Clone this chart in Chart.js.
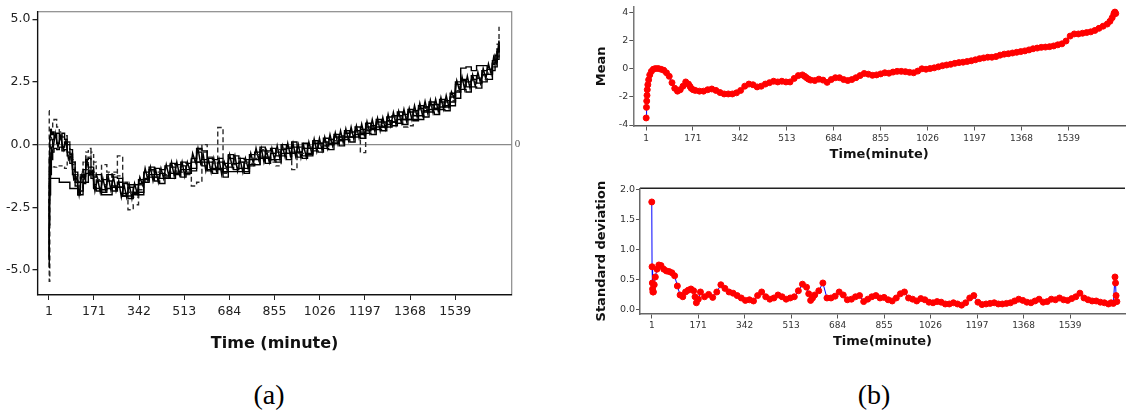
<!DOCTYPE html>
<html><head><meta charset="utf-8">
<script src="https://cdn.jsdelivr.net/npm/chart.js@4.4.1/dist/chart.umd.min.js"></script>
<style>
html,body{margin:0;padding:0;background:#fff;width:1130px;height:414px;overflow:hidden;}
.box{position:absolute;}
.lab{position:absolute;font-family:'Liberation Serif','Times New Roman',serif;font-size:28px;color:#000;text-align:center;width:80px;line-height:28px;}
</style></head><body>
<div class="box" style="left:0;top:0;width:540px;height:360px"><canvas id="ca" width="540" height="360"></canvas></div>
<div class="box" style="left:560px;top:0;width:570px;height:180px"><canvas id="cm" width="570" height="180"></canvas></div>
<div class="box" style="left:560px;top:180px;width:570px;height:180px"><canvas id="cs" width="570" height="180"></canvas></div>
<div class="lab" style="left:229px;top:381px">(a)</div>
<div class="lab" style="left:834px;top:381px">(b)</div>
<script>
// ---------- tick labels ----------
const timeTicks = [1,171,342,513,684,855,1026,1197,1368,1539];
const yTicksA = [-5,-2.5,0,2.5,5];
const yTicksMean = [-4,-2,0,2,4];
const yTicksSd = [0,0.5,1,1.5,2];
const refLineA = [0];

// ---------- panel (a): individual series ----------
const timeA = [1,2,4,7,10,15,20,
30,40,50,60,70,80,90,100,110,120,130,140,150,160,170,180,
200,220,240,260,280,300,320,340,360,380,
400,420,440,460,480,500,520,540,560,580,
600,620,640,660,680,700,720,740,760,780,
800,820,840,860,880,900,920,940,960,980,
1000,1020,1040,1060,1080,1100,1120,1140,1160,1180,
1200,1220,1240,1260,1280,1300,1320,1340,1360,1380,
1400,1420,1440,1460,1480,1500,1520,1540,1560,1580,
1600,1620,1640,1660,1680,
1690,1698,1705];
const runA = [-4.6,-2.2,-1.2,-0.5,-0.1,0.2,0.3,
0.05,0.25,-0.1,0.1,-0.3,-0.4,-1.0,-1.5,-1.8,-1.5,-1.2,-0.8,-0.9,-1.2,-1.6,-1.45,
-1.8,-1.45,-1.65,-1.5,-1.95,-1.7,-2.0,-1.55,-1.4,-1.0,
-1.3,-1.15,-1.25,-0.9,-1.1,-0.85,-1.1,-0.7,-0.3,-0.6,
-0.7,-0.95,-0.7,-1.1,-0.55,-0.75,-0.7,-0.95,-0.6,-0.6,
-0.25,-0.55,-0.35,-0.45,-0.2,-0.35,-0.1,-0.3,-0.15,-0.35,
0.05,-0.15,0.1,0.0,0.3,0.15,0.45,0.3,0.55,0.4,
0.7,0.6,0.9,0.7,0.95,0.9,1.15,1.0,1.3,1.15,
1.45,1.3,1.6,1.4,1.7,1.5,1.9,2.1,2.55,2.3,
2.6,2.45,2.8,2.8,3.25,
3.3,3.7,3.95];
const runB = [-3.0,-0.5,0.3,0.6,0.4,0.5,0.35,
0.45,0.3,0.45,0.2,0.0,-0.2,-0.7,-1.1,-1.5,-1.3,-1.0,-0.6,-0.55,-0.9,-1.3,-1.2,
-1.4,-1.2,-1.3,-1.35,-1.55,-1.6,-1.6,-1.4,-1.1,-0.9,
-0.95,-1.0,-0.85,-0.75,-0.8,-0.7,-0.75,-0.55,-0.15,-0.25,
-0.55,-0.6,-0.55,-0.75,-0.4,-0.45,-0.55,-0.6,-0.4,-0.3,
-0.1,-0.25,-0.15,-0.3,0.0,-0.15,0.1,-0.1,0.05,-0.15,
0.15,0.05,0.25,0.2,0.4,0.3,0.55,0.5,0.7,0.6,
0.85,0.75,1.0,0.9,1.1,1.15,1.3,1.2,1.4,1.35,
1.55,1.5,1.7,1.6,1.8,1.75,2.05,2.5,2.6,2.5,
2.75,2.65,2.95,3.0,3.35,
3.55,3.8,4.1];
const runC = [-4.9,-3.2,-2.0,-1.2,-0.6,-0.3,-0.15,
-0.2,-0.1,-0.25,-0.2,-0.45,-0.75,-1.2,-1.65,-2.0,-1.85,-1.55,-1.15,-1.05,-1.35,-1.7,-1.85,
-1.9,-1.75,-1.85,-1.7,-2.05,-2.15,-1.95,-2.0,-1.5,-1.3,
-1.45,-1.55,-1.3,-1.35,-1.2,-1.3,-1.15,-1.05,-0.7,-0.85,
-1.05,-1.15,-0.95,-1.3,-0.9,-1.0,-0.95,-1.15,-0.85,-0.8,
-0.55,-0.75,-0.6,-0.7,-0.45,-0.6,-0.35,-0.5,-0.55,-0.4,
-0.25,-0.3,-0.15,-0.2,0.05,-0.05,0.2,0.1,0.3,0.25,
0.45,0.4,0.6,0.55,0.7,0.75,0.85,0.8,1.0,0.95,
1.15,1.1,1.3,1.2,1.4,1.35,1.55,1.85,2.2,2.1,
2.3,2.25,2.5,2.6,2.95,
3.1,3.4,3.75];
const runD = [1.35,-5.45,-1.0,0.2,0.6,0.9,1.0,
0.7,0.5,0.3,0.35,0.1,-0.3,-0.8,-1.3,-1.5,-1.1,-0.7,-0.3,-0.15,-0.6,-1.1,-1.3,
-0.8,-1.1,-1.2,-0.45,-1.6,-2.6,-2.4,-1.8,-1.2,-1.05,
-1.1,-1.05,-0.95,-0.8,-0.9,-0.85,-1.2,-1.65,-1.5,0.0,
-0.5,-0.7,0.68,-0.95,-0.75,-0.55,-0.7,-0.75,-0.55,-0.4,
-0.2,-0.3,-0.35,-0.2,-0.15,-0.1,-1.0,-0.35,-0.15,-0.1,
0.1,0.05,0.05,0.2,0.25,0.35,0.45,0.5,0.55,-0.32,
0.6,0.75,0.85,0.85,0.92,1.1,1.15,0.7,0.75,1.3,
1.4,1.5,1.55,1.55,1.65,1.7,1.85,2.3,2.5,2.5,
2.55,2.65,2.75,2.95,3.25,
3.6,4.0,4.7];
const runE = [-4.5,-1.5,-1.35,-1.35,-1.35,-1.35,-1.35,
-1.35,-1.5,-1.5,-1.5,-1.5,-1.75,-1.75,-1.75,-2.0,-2.0,-1.5,-1.5,-1.2,-1.2,-1.75,-1.75,
-2.0,-2.0,-1.7,-1.7,-2.05,-2.05,-1.9,-1.9,-1.35,-1.2,
-1.2,-1.35,-1.35,-1.15,-1.15,-1.0,-1.0,-0.95,-0.7,-0.7,
-1.0,-1.0,-1.0,-1.08,-1.08,-1.08,-1.08,-1.08,-0.8,-0.8,
-0.5,-0.5,-0.6,-0.6,-0.35,-0.35,-0.3,-0.3,-0.45,-0.45,
-0.15,-0.15,-0.05,0.05,0.05,0.2,0.3,0.3,0.4,0.45,
0.55,0.65,0.7,0.7,0.8,0.9,1.0,1.0,1.0,1.0,
1.0,1.35,1.4,1.45,1.5,1.55,1.7,2.4,3.05,3.1,
2.95,3.15,3.15,3.0,3.2,
3.4,3.7,4.0];
const runF = [-4.0,-1.0,-0.9,-0.9,-0.9,-0.85,-0.9,
-0.85,-0.85,-0.9,-0.95,-0.6,-0.35,-0.6,-1.2,-1.65,-1.75,-1.4,-1.0,-0.5,-0.3,-0.7,-1.4,
-1.6,-1.3,-1.1,-1.25,-1.5,-1.9,-2.1,-1.6,-1.45,-1.2,
-1.3,-1.15,-1.2,-1.1,-1.05,-1.1,-0.9,-0.6,-0.2,-0.3,
-0.9,-0.75,-0.9,-1.15,-0.45,-0.8,-0.9,-0.7,-0.75,-0.55,
-0.45,-0.5,-0.7,-0.85,-0.4,-0.35,-0.25,-0.3,-0.35,-0.2,
-0.1,0.0,-0.05,0.15,0.15,0.3,0.3,0.45,0.5,0.5,
0.65,0.7,0.8,0.75,0.85,1.0,1.05,1.1,1.15,1.2,
1.3,1.45,1.45,1.5,1.6,1.65,1.75,2.15,2.4,2.35,
2.45,2.5,2.6,2.85,3.1,
3.3,3.5,3.8];
// a finer-sampled run (every 10 minutes) that forms the dense core of the band
const timeFine = [5,15,25,35,45,55,65,75,85,95,
105,115,125,135,145,155,165,175,185,195,
205,215,225,235,245,255,265,275,285,295,
305,315,325,335,345,355,365,375,385,395,
405,415,425,435,445,455,465,475,485,495,
505,515,525,535,545,555,565,575,585,595,
605,615,625,635,645,655,665,675,685,695,
705,715,725,735,745,755,765,775,785,795,
805,815,825,835,845,855,865,875,885,895,
905,915,925,935,945,955,965,975,985,995,
1005,1015,1025,1035,1045,1055,1065,1075,1085,1095,
1105,1115,1125,1135,1145,1155,1165,1175,1185,1195,
1205,1215,1225,1235,1245,1255,1265,1275,1285,1295,
1305,1315,1325,1335,1345,1355,1365,1375,1385,1395,
1405,1415,1425,1435,1445,1455,1465,1475,1485,1495,
1505,1515,1525,1535,1545,1555,1565,1575,1585,1595,
1605,1615,1625,1635,1645,1655,1665,1675,1685,1695,
1705];
const runFine = [-0.9,-0.25,0.45,-0.1,0.35,-0.2,0.15,-0.6,-0.45,-1.4,
-1.3,-2.0,-1.2,-1.35,-0.6,-1.2,-1.05,-1.85,-1.35,-1.9,
-1.35,-1.8,-1.25,-1.8,-1.3,-1.85,-1.45,-2.1,-1.6,-2.1,
-1.6,-2.15,-1.55,-1.95,-1.3,-1.6,-0.95,-1.4,-0.9,-1.45,
-1.0,-1.5,-0.95,-1.35,-0.8,-1.25,-0.7,-1.25,-0.7,-1.2,
-0.7,-1.25,-0.7,-1.05,-0.35,-0.7,-0.15,-0.75,-0.4,-1.05,
-0.6,-1.1,-0.55,-1.05,-0.6,-1.2,-0.7,-1.0,-0.4,-0.9,
-0.45,-1.05,-0.6,-1.1,-0.55,-0.95,-0.35,-0.75,-0.15,-0.6,
-0.15,-0.7,-0.25,-0.7,-0.15,-0.6,-0.05,-0.55,-0.05,-0.5,
0.05,-0.45,0.05,-0.47,0.0,-0.53,-0.03,-0.5,0.1,-0.3,
0.22,-0.28,0.25,-0.23,0.3,-0.15,0.4,-0.05,0.47,0.02,
0.55,0.08,0.63,0.17,0.7,0.23,0.75,0.27,0.82,0.37,
0.92,0.47,1.0,0.53,1.05,0.55,1.08,0.63,1.2,0.75,
1.28,0.8,1.33,0.87,1.4,0.93,1.45,1.0,1.55,1.1,
1.65,1.18,1.72,1.25,1.77,1.28,1.8,1.33,1.87,1.41,
1.95,1.5,2.1,1.85,2.55,2.17,2.7,2.2,2.73,2.25,
2.78,2.33,2.88,2.45,3.03,2.62,3.22,2.83,3.5,3.25,
4.15];

// ---------- panel (b): mean and standard deviation ----------
const timeB = [1,2,3,4,5,7,10,14,20,27,
35,45,55,65,75,85,95,105,115,125,
135,145,155,160,165,172,
180,195,210,225,240,255,270,285,300,315,
330,345,360,375,390,405,420,435,450,465,
480,495,510,525,540,555,570,578,585,592,600,615,
630,645,660,675,690,705,720,735,750,765,
780,795,810,825,840,855,870,885,900,915,
930,945,960,975,990,1005,1020,1035,1050,1065,
1080,1095,1110,1125,1140,1155,1170,1185,1200,1215,
1230,1245,1260,1275,1290,1305,1320,1335,1350,1365,
1380,1395,1410,1425,1440,1455,1470,1485,1500,1515,
1530,1545,1560,1575,1590,1605,1620,1635,1650,1665,
1680,
1690,1698,1704,1706,1708,1711];
const meanB = [-3.5,-2.75,-2.3,-1.9,-1.5,-1.15,-0.8,-0.45,-0.2,-0.05,
0.0,0.0,-0.05,-0.12,-0.3,-0.55,-1.0,-1.4,-1.6,-1.5,
-1.25,-0.95,-1.1,-1.25,-1.4,-1.5,
-1.55,-1.6,-1.6,-1.5,-1.45,-1.55,-1.7,-1.8,-1.8,-1.8,
-1.72,-1.55,-1.25,-1.1,-1.15,-1.3,-1.25,-1.1,-1.0,-0.9,
-0.95,-0.9,-0.95,-0.95,-0.7,-0.5,-0.45,-0.55,-0.65,-0.75,-0.82,-0.85,
-0.75,-0.82,-0.98,-0.78,-0.65,-0.65,-0.78,-0.85,-0.78,-0.65,
-0.5,-0.35,-0.4,-0.48,-0.45,-0.38,-0.3,-0.33,-0.25,-0.2,
-0.2,-0.22,-0.27,-0.3,-0.18,-0.02,-0.05,0.0,0.05,0.12,
0.2,0.25,0.3,0.37,0.42,0.45,0.5,0.55,0.62,0.7,
0.75,0.8,0.8,0.85,0.95,1.02,1.05,1.1,1.15,1.2,
1.25,1.32,1.4,1.45,1.5,1.52,1.55,1.6,1.68,1.75,
1.95,2.3,2.45,2.45,2.5,2.55,2.6,2.7,2.85,3.0,
3.15,
3.35,3.6,3.85,3.95,4.0,3.9];
const sdB = [1.8,0.72,0.45,0.35,0.3,0.3,0.42,0.55,0.68,0.75,
0.74,0.68,0.65,0.64,0.62,0.57,0.4,0.25,0.22,0.3,
0.33,0.35,0.32,0.22,0.12,0.18,
0.3,0.22,0.26,0.21,0.3,0.42,0.36,0.3,0.28,0.24,
0.2,0.16,0.17,0.15,0.24,0.3,0.22,0.18,0.2,0.25,
0.22,0.18,0.2,0.22,0.32,0.43,0.38,0.27,0.16,0.2,0.25,0.32,
0.45,0.2,0.2,0.23,0.3,0.25,0.17,0.18,0.22,0.24,
0.14,0.18,0.22,0.24,0.2,0.21,0.17,0.15,0.2,0.27,
0.3,0.2,0.18,0.15,0.19,0.17,0.13,0.12,0.14,0.13,
0.1,0.1,0.12,0.1,0.08,0.12,0.2,0.24,0.13,0.09,
0.1,0.11,0.12,0.1,0.1,0.11,0.12,0.15,0.18,0.16,
0.13,0.12,0.15,0.18,0.13,0.14,0.18,0.17,0.2,0.17,
0.16,0.19,0.22,0.28,0.2,0.17,0.15,0.15,0.13,0.12,
0.1,
0.12,0.11,0.55,0.45,0.24,0.14];

// ---------- helpers ----------
const SANS = 'DejaVu Sans';
const fixW = w => s => { s.width = w; };
const fixH = h => s => { s.height = h; };
const setTicks = arr => s => { s.ticks = arr.map(v => ({value: v})); };
const pts = (xs, ys) => xs.map((x, i) => ({x: x, y: ys[i]}));
const base = {responsive:false, animation:false, devicePixelRatio:1,
  plugins:{legend:{display:false}, tooltip:{enabled:false}}};

// ---------- chart (a) ----------
const frameA = {id:'frameA', beforeDraw(c){
  const a = c.chartArea, g = c.ctx; g.save(); g.strokeStyle = '#8a8a8a'; g.lineWidth = 1.2;
  g.strokeRect(a.left, a.top, a.right - a.left, a.bottom - a.top); g.restore(); }};
const runsA = [runA, runB, runC, runD, runE, runF];
const dashA = [[], [], [], [5,3], [], [4,3]];
const dsA = runsA.map((r, k) => ({data: pts(timeA, r), borderColor: dashA[k].length ? '#2a2a2a' : '#000',
    borderWidth: 1.4, borderDash: dashA[k], stepped: true, pointRadius: 0, fill: false}));
dsA.push({data: pts(timeFine, runFine), borderColor:'#000', borderWidth:1.5, stepped:false, tension:0, pointRadius:0, fill:false});
new Chart(document.getElementById('ca'), {
  type:'line',
  data:{datasets: dsA},
  options:Object.assign({}, base, {
    layout:{padding:{left:0, top:11.7, right:0, bottom:0}},
    scales:{
      x:{type:'linear', min:-42.5, max:1753, afterFit:fixH(65), afterBuildTicks:setTicks(timeTicks),
        ticks:{autoSkip:false, maxRotation:0, font:{family:SANS, size:12.5}, color:'#222', padding:4, callback:v => String(v)},
        grid:{drawOnChartArea:false, tickLength:5, tickColor:'#222'},
        border:{color:'#111', width:1.3},
        title:{display:true, text:'Time (minute)', color:'#111', font:{family:SANS, size:16, weight:'bold'}, padding:{top:0, bottom:6.4}}},
      y:{type:'linear', min:-6.0, max:5.3, afterFit:fixW(37.5), afterBuildTicks:setTicks(yTicksA),
        ticks:{font:{family:SANS, size:12.5}, color:'#222', padding:2, callback:v => Number(v).toFixed(1)},
        grid:{color: ctx => (ctx.tick && refLineA.includes(ctx.tick.value)) ? '#8a8a8a' : 'rgba(0,0,0,0)', lineWidth:1.3, tickColor:'#222', tickLength:5},
        border:{color:'#111', width:1.3}},
      y2:{type:'linear', position:'right', min:-6.0, max:5.3, afterFit:fixW(28.3), afterBuildTicks:setTicks(refLineA),
        ticks:{font:{family:'Liberation Serif', size:11}, color:'#555', padding:3, callback:v => String(v)},
        grid:{display:false, drawTicks:false}, border:{display:false}}
    }}),
  plugins:[frameA]
});

// ---------- chart (b) mean ----------
const dotStyle = {borderColor:'#0000ff', borderWidth:1, pointRadius:3, pointBorderWidth:1,
  pointBackgroundColor:'#ff0000', pointBorderColor:'#ff0000', fill:false, tension:0};
new Chart(document.getElementById('cm'), {
  type:'line',
  data:{datasets:[Object.assign({data: pts(timeB, meanB)}, dotStyle)]},
  options:Object.assign({}, base, {
    layout:{padding:0},
    scales:{
      x:{type:'linear', min:-45.9, max:1744.7, afterFit:fixH(54), afterBuildTicks:setTicks(timeTicks),
        ticks:{autoSkip:false, maxRotation:0, font:{family:SANS, size:9}, color:'#333', padding:3, callback:v => String(v)},
        grid:{drawOnChartArea:false, tickLength:4.5, tickColor:'#555'},
        border:{color:'#555', width:1.5},
        title:{display:true, text:'Time(minute)', color:'#111', font:{family:SANS, size:13, weight:'bold'}, padding:{top:0, bottom:17.9}}},
      y:{type:'linear', min:-4.07, max:4.38, afterFit:fixW(73.3), afterBuildTicks:setTicks(yTicksMean),
        ticks:{font:{family:SANS, size:9.5}, color:'#333', padding:1, callback:v => String(v)},
        grid:{drawOnChartArea:false, tickLength:4, tickColor:'#555'},
        border:{color:'#777', width:1.5},
        title:{display:true, text:'Mean', color:'#111', font:{family:SANS, size:13, weight:'bold'}, padding:{top:33.9, bottom:0}}}
    }})
});

// ---------- chart (b) standard deviation ----------
const topLine = {id:'topLine', beforeDraw(c){
  const a = c.chartArea, g = c.ctx; g.save(); g.strokeStyle = '#222'; g.lineWidth = 1.5;
  g.beginPath(); g.moveTo(a.left, a.top); g.lineTo(a.right, a.top); g.stroke(); g.restore(); }};
new Chart(document.getElementById('cs'), {
  type:'line',
  data:{datasets:[Object.assign({data: pts(timeB, sdB)}, dotStyle)]},
  options:Object.assign({}, base, {
    layout:{padding:{left:0, top:8.3, right:0, bottom:0}},
    scales:{
      x:{type:'linear', min:-42.3, max:1740.8, afterFit:fixH(46), afterBuildTicks:setTicks(timeTicks),
        ticks:{autoSkip:false, maxRotation:0, font:{family:SANS, size:9}, color:'#333', padding:1.5, callback:v => String(v)},
        grid:{drawOnChartArea:false, tickLength:4.5, tickColor:'#555'},
        border:{color:'#666', width:1.5},
        title:{display:true, text:'Time(minute)', color:'#111', font:{family:SANS, size:13, weight:'bold'}, padding:{top:0, bottom:10.5}}},
      y:{type:'linear', min:-0.067, max:2.028, afterFit:fixW(80), afterBuildTicks:setTicks(yTicksSd),
        ticks:{font:{family:SANS, size:9.5}, color:'#333', padding:1, callback:v => Number(v).toFixed(1)},
        grid:{drawOnChartArea:false, tickLength:4, tickColor:'#555'},
        border:{color:'#666', width:1.5},
        title:{display:true, text:'Standard deviation', color:'#111', font:{family:SANS, size:13, weight:'bold'}, padding:{top:33.9, bottom:0}}}
    }}),
  plugins:[topLine]
});
</script>
</body></html>
